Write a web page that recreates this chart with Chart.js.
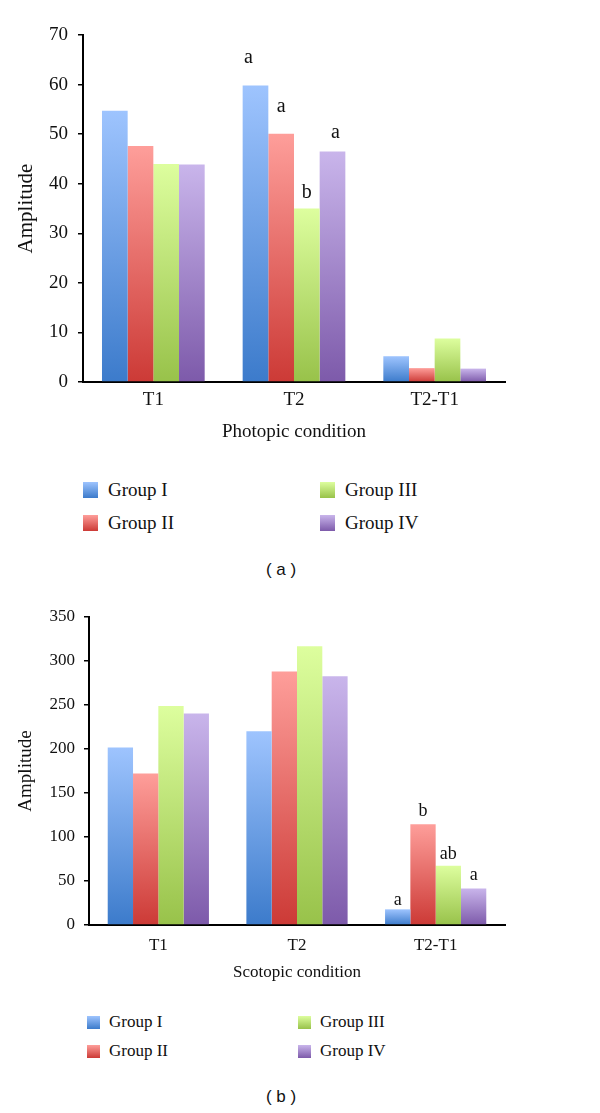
<!DOCTYPE html>
<html>
<head>
<meta charset="utf-8">
<title>Amplitude by condition</title>
<script src="https://cdn.jsdelivr.net/npm/chart.js@4"></script>
<style>
    body {
        margin: 0;
        width: 600px;
        height: 1113px;
        position: relative;
        background: #fff;
        font-family: "Liberation Serif", serif;
        color: #111;
    }
    .chart-box { position: absolute; left: 0; width: 600px; }
    .legend-item {
        position: absolute;
        height: 24px;
        line-height: 24px;
        white-space: nowrap;
    }
    .legend-item span.swatch {
        display: inline-block;
        vertical-align: middle;
    }
    .legend-item span.label { vertical-align: middle; }
    .caption {
        position: absolute;
        left: 0;
        width: 562px;
        text-align: center;
        font-family: "Liberation Sans", sans-serif;
        font-size: 17px;
        line-height: 20px;
    }
</style>
</head>
<body>
<div class="chart-box" style="top:0;height:450px"><canvas id="photopic"></canvas></div>
<div id="legendA"></div>
<div class="caption" style="top:560px">( a )</div>
<div class="chart-box" style="top:580px;height:410px"><canvas id="scotopic"></canvas></div>
<div id="legendB"></div>
<div class="caption" style="top:1087px">( b )</div>
<script>
// categories and groups
const conditions = ['T1', 'T2', 'T2-T1'];
const groups = ['Group I', 'Group II', 'Group III', 'Group IV'];

// photopic amplitude, one array per group (T1, T2, T2-T1)
const photoGroup1 = [54.7, 59.8, 5.2];
const photoGroup2 = [47.6, 50.1, 2.8];
const photoGroup3 = [44.0, 35.0, 8.8];
const photoGroup4 = [43.9, 46.5, 2.7];
const photoLetters = [['', 'a', ''], ['', 'a', ''], ['', 'b', ''], ['', 'a', '']];
const photoMax = 70;
const photoStep = 10;

// scotopic amplitude
const scotoGroup1 = [201.7, 220.2, 17.8];
const scotoGroup2 = [172.2, 288.0, 114.6];
const scotoGroup3 = [249.0, 316.7, 67.4];
const scotoGroup4 = [240.3, 282.6, 41.6];
const scotoLetters = [['', '', 'a'], ['', '', 'b'], ['', '', 'ab'], ['', '', 'a']];
const scotoMax = 350;
const scotoStep = 50;

// light top / dark bottom for each group
const groupShades = [
    ['#9ec4fe', '#3c7bcb'],
    ['#fe9e9a', '#cc3a36'],
    ['#ddfe9e', '#98c24a'],
    ['#c9b5eb', '#7d5aaa']
];

const serif = '"Liberation Serif", serif';
Chart.defaults.font.family = serif;
Chart.defaults.color = '#111';

/**
 * Vertical gradient per bar, light at the top of the bar
 */
function barFill(shades) {
    return (ctx) => {
        const chart = ctx.chart;
        const y = chart.scales.y;
        if (!chart.chartArea || !y || ctx.raw == null) return shades[1];
        const top = y.getPixelForValue(ctx.raw);
        const bottom = y.getPixelForValue(0);
        if (!isFinite(top) || top === bottom) return shades[1];
        const g = chart.ctx.createLinearGradient(0, top, 0, bottom);
        g.addColorStop(0, shades[0]);
        g.addColorStop(1, shades[1]);
        return g;
    };
}

/**
 * Significance letters above bars (offsets are [dx, lift] per group)
 */
function letterPlugin(letters, offsets, fontSize) {
    return {
        id: 'letters',
        afterDatasetsDraw(chart) {
            const ctx = chart.ctx;
            ctx.save();
            ctx.font = fontSize + 'px ' + serif;
            ctx.fillStyle = '#111';
            ctx.textAlign = 'center';
            ctx.textBaseline = 'middle';
            letters.forEach((row, di) => {
                const meta = chart.getDatasetMeta(di);
                row.forEach((txt, i) => {
                    if (!txt) return;
                    const bar = meta.data[i];
                    ctx.fillText(txt, bar.x + offsets[di][0], bar.y - offsets[di][1]);
                });
            });
            ctx.restore();
        }
    };
}

function buildChart(id, series, letters, cfg) {
    const canvas = document.getElementById(id);
    return new Chart(canvas, {
        type: 'bar',
        data: {
            labels: conditions,
            datasets: series.map((values, i) => ({
                label: groups[i],
                data: values,
                backgroundColor: barFill(groupShades[i]),
                borderWidth: 0,
                categoryPercentage: 0.73,
                barPercentage: 1.0
            }))
        },
        options: {
            responsive: true,
            maintainAspectRatio: false,
            animation: false,
            layout: { padding: { top: cfg.top, right: 95, left: 0, bottom: 0 } },
            plugins: {
                legend: { display: false },
                tooltip: { enabled: false }
            },
            scales: {
                x: {
                    afterFit(scale) { scale.height = cfg.xHeight; },
                    grid: { display: false, drawTicks: false },
                    border: { display: true, color: '#000', width: 2 },
                    ticks: {
                        color: '#111',
                        padding: cfg.xTickPad,
                        font: { size: cfg.tickSize }
                    },
                    title: {
                        display: true,
                        text: cfg.xTitle,
                        color: '#111',
                        font: { size: cfg.xTitleSize },
                        padding: { top: 0, bottom: cfg.xTitlePad }
                    }
                },
                y: {
                    min: 0,
                    max: cfg.max,
                    afterFit(scale) { scale.width = cfg.yWidth; },
                    grid: {
                        drawOnChartArea: false,
                        drawTicks: true,
                        tickLength: 5,
                        color: '#000',
                        lineWidth: 1.5
                    },
                    border: { display: true, color: '#000', width: 2 },
                    ticks: {
                        stepSize: cfg.step,
                        color: '#111',
                        padding: cfg.yTickPad,
                        font: { size: cfg.yTickSize }
                    },
                    title: {
                        display: true,
                        text: 'Amplitude',
                        color: '#111',
                        font: { size: cfg.yTitleSize },
                        padding: { top: cfg.yTitlePad, bottom: 0 }
                    }
                }
            }
        },
        plugins: [letterPlugin(letters, cfg.letterOffsets, cfg.letterSize)]
    });
}

// legend: two columns, Group I / II on the left, III / IV on the right
function buildLegend(id, cfg) {
    const host = document.getElementById(id);
    const order = [[0, 0, 0], [1, 0, 1], [2, 1, 0], [3, 1, 1]];
    order.forEach(([gi, col, row]) => {
        const item = document.createElement('div');
        item.className = 'legend-item';
        item.style.left = cfg.cols[col] + 'px';
        item.style.top = (cfg.rows[row] - 12) + 'px';
        item.style.fontSize = cfg.font + 'px';
        const sw = document.createElement('span');
        sw.className = 'swatch';
        sw.style.width = cfg.box[0] + 'px';
        sw.style.height = cfg.box[1] + 'px';
        sw.style.marginRight = cfg.gap + 'px';
        sw.style.background = `linear-gradient(${groupShades[gi][0]}, ${groupShades[gi][1]})`;
        const lb = document.createElement('span');
        lb.className = 'label';
        lb.textContent = groups[gi];
        item.appendChild(sw);
        item.appendChild(lb);
        host.appendChild(item);
    });
}

buildChart('photopic', [photoGroup1, photoGroup2, photoGroup3, photoGroup4], photoLetters, {
    top: 35, max: photoMax, step: photoStep,
    xHeight: 68, xTickPad: 7, tickSize: 19,
    xTitle: 'Photopic condition', xTitleSize: 19, xTitlePad: 7,
    yWidth: 83, yTickPad: 10, yTickSize: 19,
    yTitleSize: 21, yTitlePad: 14,
    letterSize: 20,
    letterOffsets: [[-7, 28], [0, 27], [0, 16], [3, 19]]
});

buildChart('scotopic', [scotoGroup1, scotoGroup2, scotoGroup3, scotoGroup4], scotoLetters, {
    top: 37, max: scotoMax, step: scotoStep,
    xHeight: 65, xTickPad: 10, tickSize: 17,
    xTitle: 'Scotopic condition', xTitleSize: 17, xTitlePad: 7,
    yWidth: 89, yTickPad: 9, yTickSize: 17,
    yTitleSize: 19, yTitlePad: 15,
    letterSize: 18,
    letterOffsets: [[0, 9], [0, 13], [0, 11], [0, 13]]
});

buildLegend('legendA', { cols: [83, 320], rows: [488, 521], box: [15, 16], gap: 10, font: 19 });
buildLegend('legendB', { cols: [87, 298], rows: [1021, 1050], box: [13, 13], gap: 9, font: 17 });
</script>
</body>
</html>
